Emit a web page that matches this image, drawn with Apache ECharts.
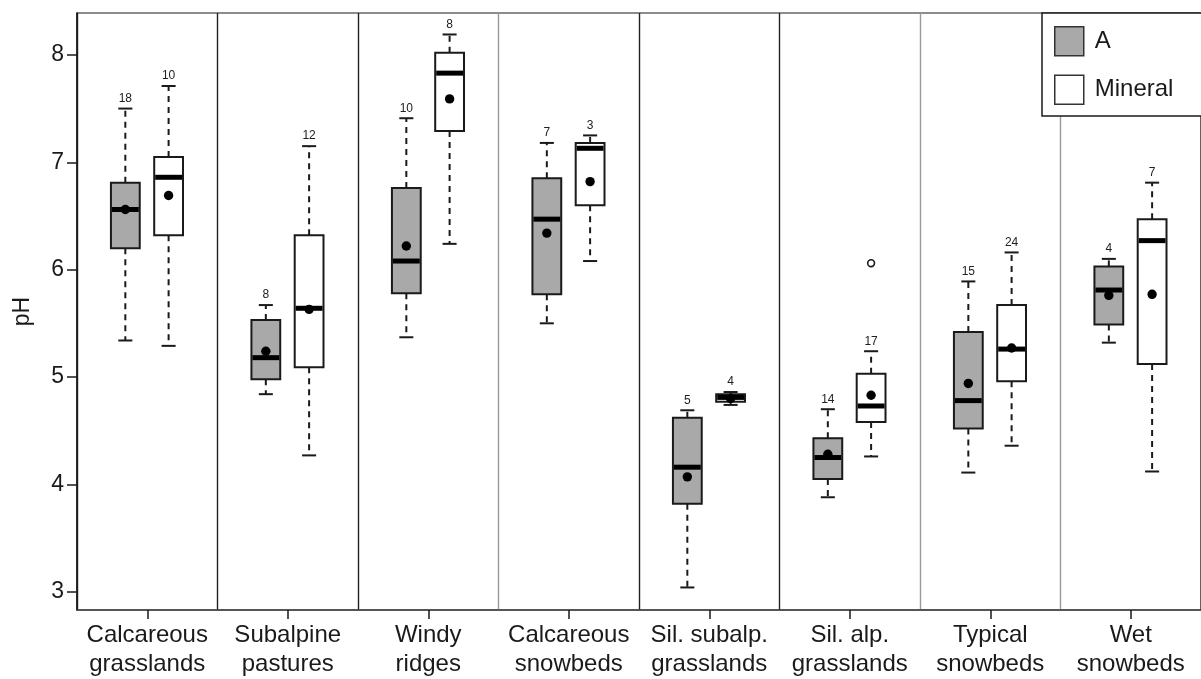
<!DOCTYPE html>
<html>
<head>
<meta charset="utf-8">
<script src="https://cdn.jsdelivr.net/npm/echarts@6/dist/echarts.min.js"></script>
<style>
  html, body { margin: 0; padding: 0; background: #fff; }
  #chart { width: 1201px; height: 679px; }
</style>
</head>
<body>
<div id="chart"></div>
<script>
// Vegetation types along the x axis
const categories = [
  'Calcareous\ngrasslands', 'Subalpine\npastures', 'Windy\nridges', 'Calcareous\nsnowbeds',
  'Sil. subalp.\ngrasslands', 'Sil. alp.\ngrasslands', 'Typical\nsnowbeds', 'Wet\nsnowbeds'
];

// Box summaries per vegetation type: [lower whisker, Q1, median, Q3, upper whisker]
const horizonA = [
  [5.34, 6.20, 6.56, 6.81, 7.50],
  [4.84, 4.98, 5.18, 5.53, 5.67],
  [5.37, 5.78, 6.08, 6.76, 7.41],
  [5.50, 5.77, 6.47, 6.85, 7.18],
  [3.04, 3.82, 4.16, 4.62, 4.69],
  [3.88, 4.05, 4.25, 4.43, 4.70],
  [4.11, 4.52, 4.78, 5.42, 5.89],
  [5.32, 5.49, 5.81, 6.03, 6.10]
];
const horizonAMeans = [6.56, 5.24, 6.22, 6.34, 4.07, 4.28, 4.94, 5.76];
const horizonACounts = [18, 8, 10, 7, 5, 14, 15, 4];

const horizonMineral = [
  [5.29, 6.32, 6.86, 7.05, 7.71],
  [4.27, 5.09, 5.64, 6.32, 7.15],
  [6.24, 7.29, 7.83, 8.02, 8.19],
  [6.08, 6.60, 7.13, 7.18, 7.25],
  [4.74, 4.77, 4.81, 4.84, 4.86],
  [4.26, 4.58, 4.73, 5.03, 5.24],
  [4.36, 4.96, 5.26, 5.67, 6.16],
  [4.12, 5.12, 6.27, 6.47, 6.81]
];
const horizonMineralMeans = [6.69, 5.63, 7.59, 6.82, 4.80, 4.83, 5.27, 5.77];
const horizonMineralCounts = [10, 12, 8, 3, 4, 17, 24, 7];

// Outlying observations: [vegetation type index, pH]
const mineralOutliers = [[5, 6.06]];

const yTicks = [3, 4, 5, 6, 7, 8];

const FONT = "'Liberation Sans', Arial, sans-serif";
const INK = '#1a1a1a';
const FILL_A = '#a9a9a9';
const FILL_MINERAL = '#ffffff';

// Horizontal position of each box inside its category band (fraction of band width)
const OFFSET_A = -0.156;
const OFFSET_MINERAL = 0.152;

function boxRenderer(offset, fill) {
  return function (params, api) {
    const cat = api.value(0);
    const band = api.size([1, 0])[0];
    const x = api.coord([cat, 0])[0] + offset * band;
    const py = k => api.coord([cat, api.value(k)])[1];
    const yLow = py(1), yQ1 = py(2), yMed = py(3), yQ3 = py(4), yHigh = py(5), yMean = py(6);
    const n = api.value(7);
    const bw = band * 0.205;
    const cw = band * 0.1;
    const dashed = { stroke: INK, lineWidth: 2, lineDash: [6, 5] };
    const solid = { stroke: INK, lineWidth: 2 };
    return {
      type: 'group',
      children: [
        { type: 'line', shape: { x1: x, y1: yQ3, x2: x, y2: yHigh }, style: dashed },
        { type: 'line', shape: { x1: x, y1: yQ1, x2: x, y2: yLow }, style: dashed },
        { type: 'line', shape: { x1: x - cw / 2, y1: yHigh, x2: x + cw / 2, y2: yHigh }, style: solid },
        { type: 'line', shape: { x1: x - cw / 2, y1: yLow, x2: x + cw / 2, y2: yLow }, style: solid },
        { type: 'rect', shape: { x: x - bw / 2, y: yQ3, width: bw, height: yQ1 - yQ3 },
          style: { fill: fill, stroke: INK, lineWidth: 2 } },
        { type: 'line', shape: { x1: x - bw / 2 + 1, y1: yMed, x2: x + bw / 2 - 1, y2: yMed },
          style: { stroke: '#000', lineWidth: 5 } },
        { type: 'circle', shape: { cx: x, cy: yMean, r: 4.7 }, style: { fill: '#000' } },
        { type: 'text', style: { x: x, y: yHigh - 10, text: String(n), fill: '#222',
          font: '12px ' + FONT, align: 'center', verticalAlign: 'middle' } }
      ]
    };
  };
}

function outlierRenderer(offset) {
  return function (params, api) {
    const cat = api.value(0);
    const band = api.size([1, 0])[0];
    const p = api.coord([cat, api.value(1)]);
    return { type: 'circle', shape: { cx: p[0] + offset * band, cy: p[1], r: 3.4 },
      style: { fill: '#fff', stroke: INK, lineWidth: 1.6 } };
  };
}

const toRows = (boxes, means, counts) => boxes.map((b, i) => [i].concat(b, [means[i], counts[i]]));

const chart = echarts.init(document.getElementById('chart'), null, { renderer: 'canvas' });
chart.setOption({
  animation: false,
  backgroundColor: '#fff',
  grid: {
    left: 77, top: 13, width: 1129, bottom: 68,
    show: true, borderColor: INK, borderWidth: 1.2, backgroundColor: 'transparent'
  },
  legend: {
    orient: 'vertical',
    left: 1042, top: 13,
    padding: [13, 40, 11, 12],
    itemWidth: 29, itemHeight: 29, itemGap: 18,
    backgroundColor: '#fff',
    borderColor: INK, borderWidth: 1.5,
    selectedMode: false,
    textStyle: { fontFamily: FONT, fontSize: 24, color: INK, padding: [0, 0, 0, 6] },
    data: [
      { name: 'A', icon: 'rect', itemStyle: { color: FILL_A, borderColor: '#333', borderWidth: 1.5 } },
      { name: 'Mineral', icon: 'rect', itemStyle: { color: FILL_MINERAL, borderColor: '#333', borderWidth: 1.5 } }
    ]
  },
  xAxis: {
    type: 'category',
    data: categories,
    boundaryGap: true,
    axisLine: { show: true, lineStyle: { color: '#444', width: 1.5 } },
    axisTick: { show: true, alignWithLabel: true, length: 9, lineStyle: { color: INK, width: 1.5 } },
    axisLabel: { interval: 0, margin: 11, fontFamily: FONT, fontSize: 24, lineHeight: 29, color: INK },
    splitLine: {
      show: true, interval: 0,
      lineStyle: {
        width: 1.4,
        color: ['#222', '#222', '#222', '#999', '#222', '#222', '#999', '#999', '#222']
      }
    }
  },
  yAxis: {
    type: 'value',
    min: 2.83, max: 8.39,
    name: 'pH',
    nameLocation: 'middle',
    nameRotate: 90,
    nameGap: 43,
    nameTextStyle: { fontFamily: FONT, fontSize: 23, color: INK },
    axisLine: { show: true, lineStyle: { color: INK, width: 1.5 } },
    axisTick: { show: true, length: 10, customValues: yTicks, lineStyle: { color: INK, width: 1.5 } },
    axisLabel: { customValues: yTicks, margin: 13, fontFamily: FONT, fontSize: 23, color: INK },
    splitLine: { show: false }
  },
  series: [
    {
      name: 'A', type: 'custom',
      renderItem: boxRenderer(OFFSET_A, FILL_A),
      itemStyle: { color: FILL_A, borderColor: '#333' },
      encode: { x: 0, y: [1, 2, 3, 4, 5] },
      data: toRows(horizonA, horizonAMeans, horizonACounts),
      z: 3
    },
    {
      name: 'Mineral', type: 'custom',
      renderItem: boxRenderer(OFFSET_MINERAL, FILL_MINERAL),
      itemStyle: { color: FILL_MINERAL, borderColor: '#333' },
      encode: { x: 0, y: [1, 2, 3, 4, 5] },
      data: toRows(horizonMineral, horizonMineralMeans, horizonMineralCounts),
      z: 3
    },
    {
      name: 'Mineral', type: 'custom',
      renderItem: outlierRenderer(OFFSET_MINERAL),
      encode: { x: 0, y: 1 },
      data: mineralOutliers,
      z: 3
    }
  ]
});
</script>
</body>
</html>
